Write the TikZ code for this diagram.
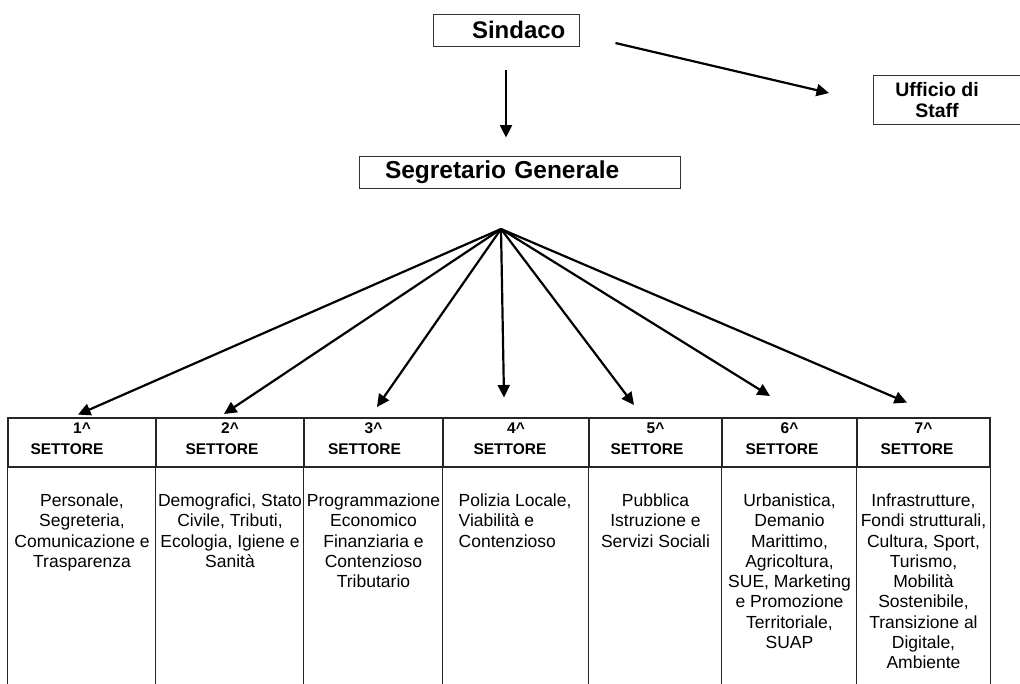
\documentclass[tikz,border=0pt]{standalone}
\usepackage{fontspec}
\setmainfont{Liberation Sans}
\setlength{\parindent}{0pt}
\usetikzlibrary{positioning, arrows.meta}
\tikzset{
x=1pt, y=-1pt, % one unit per pixel of the reference, y runs down
every node/.style={inner sep=0pt}, % boxes are sized by hand
topbox/.style={draw=black!80, line width=0.9pt, minimum height=32pt, font=\bfseries\fontsize{24}{28}\selectfont},
boxline/.style={draw=black!80, line width=0.9pt},
arrow/.style={-{Triangle[length=12.5pt,width=12pt]}, line width=2.2pt}, % the thick arrows
hdrbox/.style={draw=black!85, line width=1.1pt, minimum height=49pt}, % header cells
tableline/.style={draw=black!85, line width=1.1pt},
hdrtext/.style={align=center, font=\bfseries\fontsize{15.5}{21}\selectfont},
bodytext/.style={align=center, font=\fontsize{17.5}{20.3}\selectfont},
}

\begin{document}
\begin{tikzpicture}
    \useasboundingbox (0,0) rectangle (1020,684);
    \clip (0,0) rectangle (1020,684);

    \node[topbox, text width=146pt, align=left] (SINDACO) at (506,30) {\hspace*{39pt}Sindaco};
    \node[topbox, text width=321pt, align=left, font=\bfseries\fontsize{24.5}{28}\selectfont] (SEG) at (519.5,172) {\hspace*{26pt}Segretario Generale};
    \node[align=center, minimum width=126pt, minimum height=48pt, font=\bfseries\fontsize{19.5}{21}\selectfont] (STAFF) at (937,100) {Ufficio di\\Staff};
    \draw[boxline] ([xshift=100pt]STAFF.north east) -- (STAFF.north west) -- (STAFF.south west) -- ([xshift=100pt]STAFF.south east);

    \draw[arrow, shorten <=24pt, shorten >=18pt] (SINDACO.south) -- (SINDACO.south |- SEG.north);
    \draw[arrow, shorten <=37pt, shorten >=46pt] ([yshift=-4.6pt]SINDACO.east) -- ([yshift=-3.5pt]STAFF.west);

    % header cells of the seven sectors
    \foreach \l/\r/\s [count=\i] in {8/156/30,156/304/16,304/443/18,443/589/12,589/722/17,722/857/15,857/990/13} {
        \pgfmathsetmacro\w{\r-\l}
        \node[hdrbox, minimum width=\w pt] (h\i) at ({(\l+\r)/2},442.5) {};
        \node[hdrtext, below=5pt of h\i.north] {\i\textasciicircum\\SETTORE\hspace*{\s pt}};
        \draw[tableline] (h\i.south west) -- ++(0,230);
    }
    \draw[tableline] (h7.south east) -- ++(0,230);

    % fan of arrows from the secretary
    \coordinate (hub) at (501,229);
    \foreach \x/\y [count=\i] in {78/414.6,224/414,377/407,504/397.5,634/405,770/396,907/402.6} {
        \coordinate (tip\i) at (\x,\y);
        \draw[arrow] (hub) -- (tip\i);
    }

    \node[bodytext, below=26pt of h1.south] (b1) {Personale,\\Segreteria,\\Comunicazione e\\Trasparenza};
    \node[bodytext, below=26pt of h2.south] (b2) {Demografici, Stato\\Civile, Tributi,\\Ecologia, Igiene e\\Sanità};
    \node[bodytext, below=26pt of h3.south] (b3) {Programmazione\\Economico\\Finanziaria e\\Contenzioso\\Tributario};
    \node[bodytext, align=left, anchor=north west] (b4) at ([xshift=16pt, yshift=-26pt]h4.south west) {Polizia Locale,\\Viabilità e\\Contenzioso};
    \node[bodytext, below=26pt of h5.south] (b5) {Pubblica\\Istruzione e\\Servizi Sociali};
    \node[bodytext, below=26pt of h6.south] (b6) {Urbanistica,\\Demanio\\Marittimo,\\Agricoltura,\\SUE, Marketing\\e Promozione\\Territoriale,\\SUAP};
    \node[bodytext, below=26pt of h7.south] (b7) {Infrastrutture,\\Fondi strutturali,\\Cultura, Sport,\\Turismo,\\Mobilità\\Sostenibile,\\Transizione al\\Digitale,\\Ambiente};
\end{tikzpicture}
\end{document}
